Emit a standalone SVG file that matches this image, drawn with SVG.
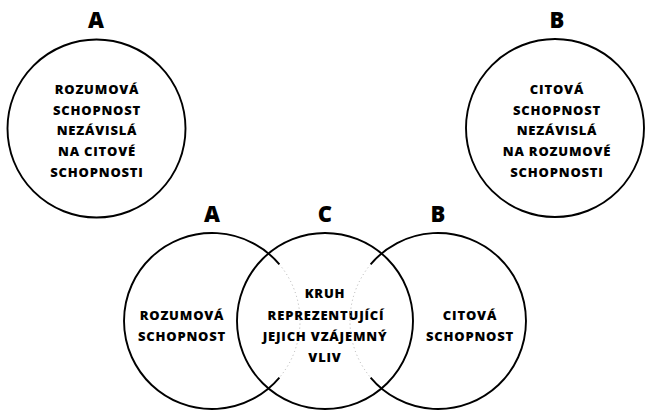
<svg xmlns="http://www.w3.org/2000/svg" width="646" height="410" viewBox="0 0 646 410">
<style>
.c{fill:none;stroke:#000;stroke-width:1.9}
.d{fill:none;stroke:#b0b0b0;stroke-width:1;stroke-dasharray:1 3}
.t{font-family:"Open Sans","DejaVu Sans",sans-serif;font-weight:800;font-size:13px;letter-spacing:0.8px;text-anchor:middle;fill:#000}
.h{font-family:"Open Sans","DejaVu Sans",sans-serif;font-weight:800;font-size:22px;text-anchor:middle;fill:#000}
</style>
<rect width="646" height="410" fill="#fff"/>
<g id="nodeA1">
<text class="h" x="96" y="28">A</text>
<circle class="c" cx="96.5" cy="128.5" r="89"/>
<text class="t" x="97" y="94">ROZUMOVÁ</text>
<text class="t" x="97" y="115">SCHOPNOST</text>
<text class="t" x="97" y="135">NEZÁVISLÁ</text>
<text class="t" x="97" y="156">NA CITOVÉ</text>
<text class="t" x="97" y="177">SCHOPNOSTI</text>
</g>
<g id="nodeB1">
<text class="h" x="557" y="28">B</text>
<circle class="c" cx="555" cy="128" r="89"/>
<text class="t" x="557" y="94">CITOVÁ</text>
<text class="t" x="557" y="115">SCHOPNOST</text>
<text class="t" x="557" y="135">NEZÁVISLÁ</text>
<text class="t" x="557" y="156">NA ROZUMOVÉ</text>
<text class="t" x="557" y="177">SCHOPNOSTI</text>
</g>
<g id="nodeA2">
<text class="h" x="212" y="222">A</text>
<path class="c" d="M279.4 264.4 A88 88 0 1 0 279.4 377.6"/>
<path class="d" d="M279.4 264.4 A88 88 0 0 1 279.4 377.6"/>
<text class="t" x="182" y="320">ROZUMOVÁ</text>
<text class="t" x="182" y="341">SCHOPNOST</text>
</g>
<g id="nodeC">
<text class="h" x="325" y="222">C</text>
<circle class="c" cx="325" cy="321" r="88"/>
<text class="t" x="325" y="298">KRUH</text>
<text class="t" x="326" y="320">REPREZENTUJÍCÍ</text>
<text class="t" x="325" y="341">JEJICH VZÁJEMNÝ</text>
<text class="t" x="325" y="362">VLIV</text>
</g>
<g id="nodeB2">
<text class="h" x="438" y="222">B</text>
<path class="c" d="M370.6 264.4 A88 88 0 1 1 370.6 377.6"/>
<path class="d" d="M370.6 264.4 A88 88 0 0 0 370.6 377.6"/>
<text class="t" x="470" y="320">CITOVÁ</text>
<text class="t" x="470" y="341">SCHOPNOST</text>
</g>
<g id="connectors"></g>
</svg>
